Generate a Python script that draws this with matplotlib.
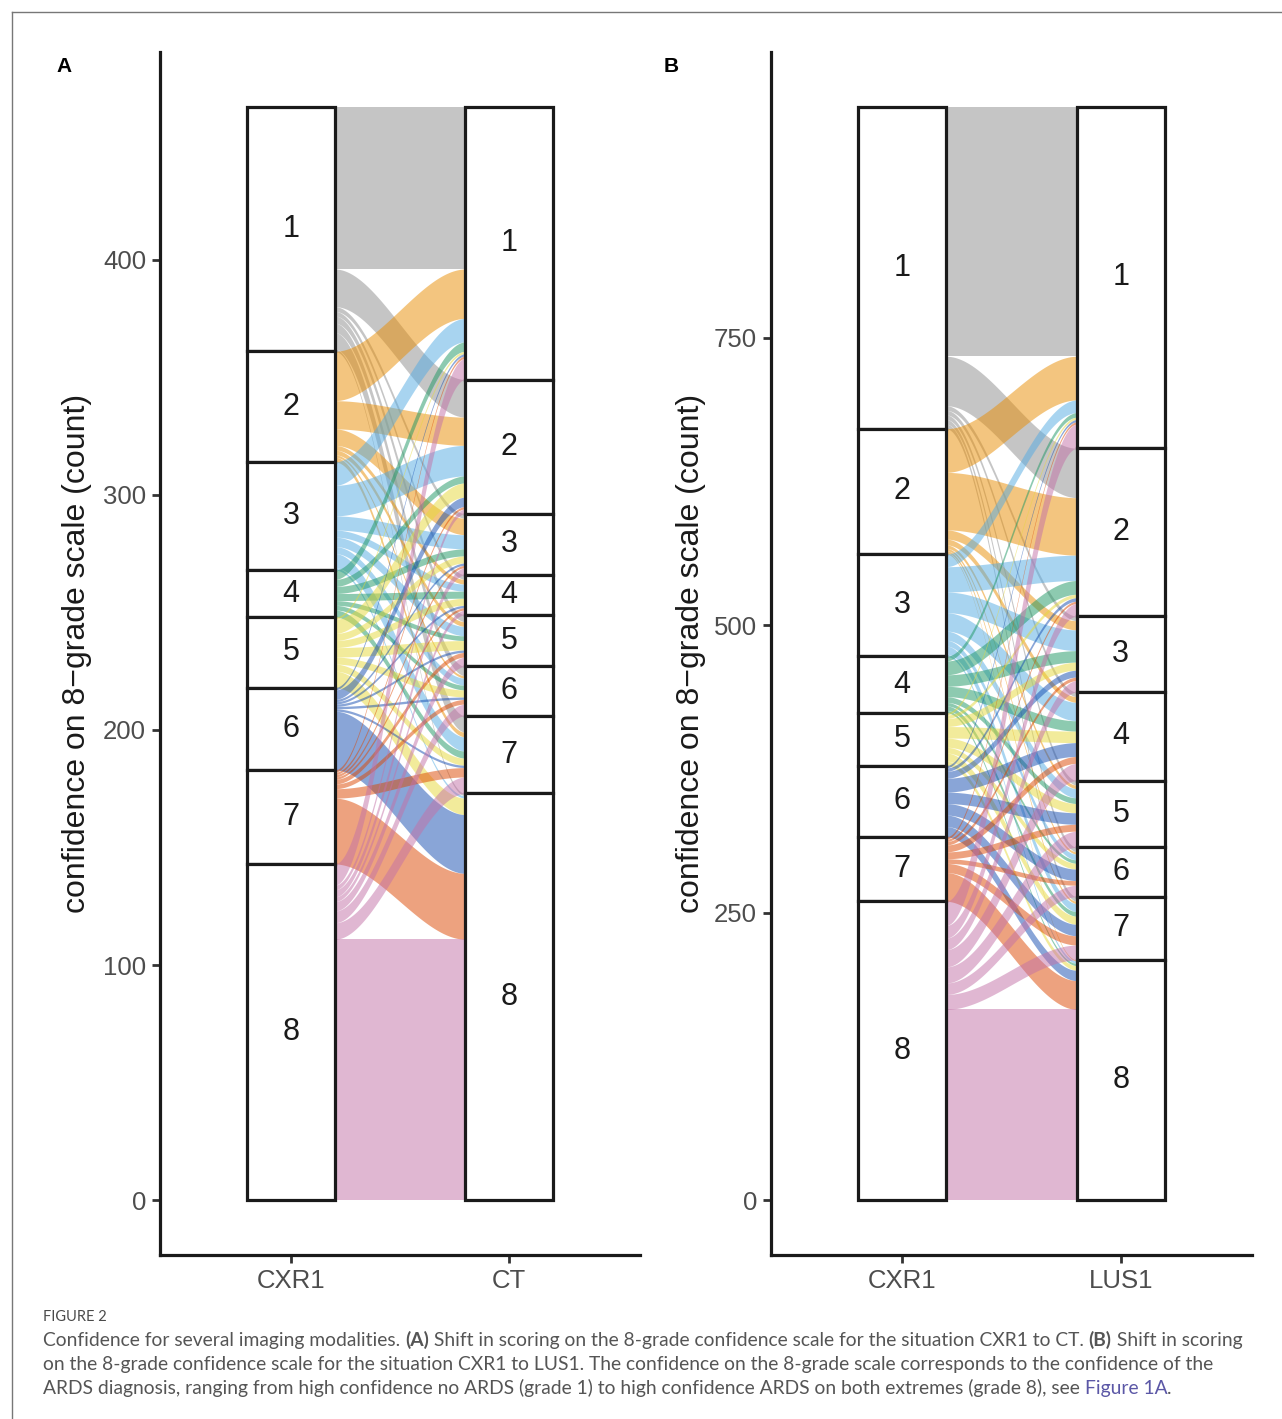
import numpy as np
import matplotlib.pyplot as plt
from matplotlib.patches import Rectangle
from matplotlib.lines import Line2D

# grades on the 8-grade confidence scale
grades = ['1', '2', '3', '4', '5', '6', '7', '8']

# rows = CXR1 grade, columns = CT grade (number of scorings)
cxr_to_ct = np.array([
    [69, 16, 2, 2, 3, 4, 7, 1],
    [21, 12, 7, 2, 2, 1, 2, 0],
    [10, 13, 6, 3, 4, 3, 6, 1],
    [4, 3, 3, 3, 2, 2, 3, 0],
    [1, 6, 3, 3, 4, 3, 3, 7],
    [1, 4, 1, 1, 1, 1, 1, 25],
    [1, 1, 1, 1, 2, 2, 4, 28],
    [9, 2, 3, 2, 4, 5, 7, 111],
])

# rows = CXR1 grade, columns = LUS1 grade
cxr_to_lus = np.array([
    [217, 43, 4, 4, 4, 4, 4, 0],
    [38, 50, 8, 5, 3, 2, 2, 1],
    [11, 22, 18, 16, 8, 5, 7, 2],
    [4, 12, 10, 9, 5, 3, 4, 2],
    [2, 3, 7, 10, 8, 5, 7, 4],
    [2, 3, 6, 12, 10, 10, 10, 9],
    [2, 2, 3, 6, 6, 4, 8, 25],
    [21, 11, 10, 15, 14, 10, 13, 166],
])

axis_names_a = ['CXR1', 'CT']
axis_names_b = ['CXR1', 'LUS1']
yticks_a = [0, 100, 200, 300, 400]
yticks_b = [0, 250, 500, 750]

# fill colour per CXR1 grade (drawn at alpha 0.5)
grade_colors = ['#8d8d8d', '#e98d00', '#53abe3', '#1d9763',
                '#e7d939', '#154db1', '#dd4700', '#c371a7']

plt.rcParams['font.family'] = ['Liberation Sans', 'DejaVu Sans']

W, H = 1282, 1419
fig = plt.figure(figsize=(W / 100, H / 100), dpi=100)

WIDTH = 0.4  # stratum width


def smooth(t):
    return t * t * (3 - 2 * t)


def draw_alluvial(ax, counts, names, yticks):
    total = counts.sum()
    left_n = counts.sum(axis=1)
    right_n = counts.sum(axis=0)
    left_top = total - np.concatenate([[0], np.cumsum(left_n)[:-1]])
    right_top = total - np.concatenate([[0], np.cumsum(right_n)[:-1]])

    x0, x1 = 1 + WIDTH / 2, 2 - WIDTH / 2
    xs = np.linspace(x0, x1, 120)
    s = smooth((xs - x0) / (x1 - x0))

    for i in range(8):
        for j in range(8):
            n = counts[i, j]
            if n == 0:
                continue
            a = left_top[i] - counts[i, :j].sum()
            b = right_top[j] - counts[:i, j].sum()
            top = a + (b - a) * s
            ax.fill_between(xs, top - n, top, color=grade_colors[i],
                            alpha=0.5, linewidth=0, zorder=2)

    # strata
    for x, ns, tops in [(1, left_n, left_top), (2, right_n, right_top)]:
        for k in range(8):
            ax.add_patch(Rectangle((x - WIDTH / 2, tops[k] - ns[k]), WIDTH, ns[k],
                                   facecolor='white', edgecolor='#1a1a1a',
                                   linewidth=2.3, zorder=3))
            ax.text(x, tops[k] - ns[k] / 2, grades[k], ha='center', va='center',
                    fontsize=22, color='#1a1a1a', zorder=4)

    ax.set_xlim(0.4, 2.6)
    ax.set_ylim(-0.05 * total, 1.05 * total)
    ax.set_xticks([1, 2])
    ax.set_xticklabels(names)
    ax.set_yticks(yticks)
    for side in ['top', 'right']:
        ax.spines[side].set_visible(False)
    for side in ['left', 'bottom']:
        ax.spines[side].set_linewidth(2.3)
        ax.spines[side].set_color('#1a1a1a')
    ax.tick_params(length=6, width=2, color='#333333', labelsize=18.5,
                   labelcolor='#4d4d4d', pad=4)
    ax.set_ylabel('confidence on 8\u2212grade scale (count)', fontsize=23,
                  color='#1a1a1a')


ax_a = fig.add_axes([160 / W, 1 - 1255 / H, 480 / W, 1203 / H])
draw_alluvial(ax_a, cxr_to_ct, axis_names_a, yticks_a)
ax_a.yaxis.set_label_coords(-0.142, 0.5)

ax_b = fig.add_axes([771 / W, 1 - 1255 / H, 481 / W, 1203 / H])
draw_alluvial(ax_b, cxr_to_lus, axis_names_b, yticks_b)
ax_b.yaxis.set_label_coords(-0.135, 0.5)

fig.text(64 / W, 1 - 67 / H, 'A', fontsize=15, fontweight='bold', ha='center', va='center')
fig.text(671 / W, 1 - 67 / H, 'B', fontsize=15, fontweight='bold', ha='center', va='center')

# outer frame (top and left edges)
fig.add_artist(Line2D([12 / W, 12 / W], [0, 1 - 12 / H], color='#777777', lw=1))
fig.add_artist(Line2D([12 / W, 1], [1 - 12 / H, 1 - 12 / H], color='#777777', lw=1))

# caption
cap = fig.add_axes([0, 0, 1, 1], zorder=-1)
cap.axis('off')

fig.text(43 / W, 1 - 1321 / H, 'FIGURE 2', fontsize=10.5, family='Lato',
         color='#4a4a4a', va='baseline')

caption_lines = [
    (1346, [('Confidence for several imaging modalities. ', ''), ('(A)', 'b'),
            (' Shift in scoring on the 8-grade confidence scale for the situation CXR1 to CT. ', ''),
            ('(B)', 'b'), (' Shift in scoring', '')]),
    (1370, [('on the 8-grade confidence scale for the situation CXR1 to LUS1. The confidence on the 8-grade scale corresponds to the confidence of the', '')]),
    (1394, [('ARDS diagnosis, ranging from high confidence no ARDS (grade 1) to high confidence ARDS on both extremes (grade 8), see ', ''),
            ('Figure 1A', 'link'), ('.', '')]),
]

for y_px, pieces in caption_lines:
    prev = None
    for txt, style in pieces:
        kw = dict(fontsize=13.9, family='Lato', color='#555555', va='baseline', ha='left')
        if style == 'b':
            kw['fontweight'] = 'bold'
        if style == 'link':
            kw['color'] = '#5b57a6'
        if prev is None:
            prev = cap.annotate(txt, xy=(43, H - y_px), xycoords='figure pixels', **kw)
        else:
            prev = cap.annotate(txt, xy=(1, H - y_px), xycoords=(prev, 'figure pixels'), **kw)

fig.savefig('out.png', dpi=100)
